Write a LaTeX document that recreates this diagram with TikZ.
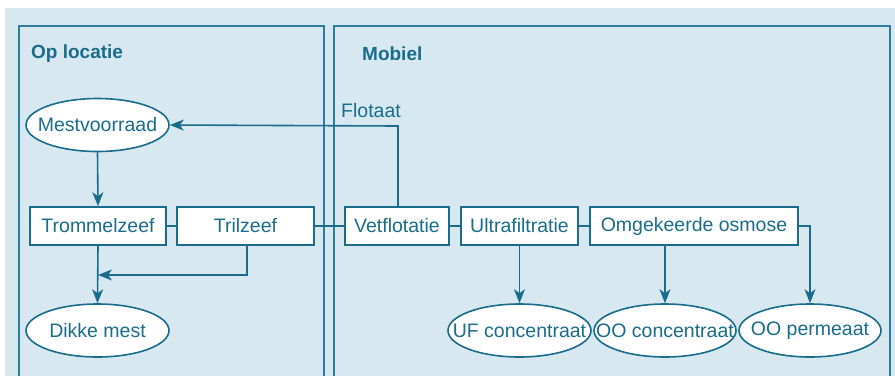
\documentclass[tikz,border=0pt]{standalone}
\usepackage{fontspec}
\setmainfont{Liberation Sans}
\usetikzlibrary{shapes.geometric,arrows.meta}
\definecolor{bg}{HTML}{D7E8F1}
\definecolor{ink}{HTML}{1A6C8C}
\definecolor{frame}{HTML}{2C7EA0}
\newcommand\ovaltext[1]{\makebox[0pt]{#1}}
\tikzset{
  box/.style={draw=ink, fill=white, line width=1.6pt, rectangle, minimum height=38pt, inner sep=0pt, text=ink, font=\fontsize{19.5}{22}\selectfont},
  oval/.style={draw=ink, fill=white, line width=1.6pt, ellipse, minimum height=53pt, inner sep=0pt, text=ink, font=\fontsize{19.5}{22}\selectfont},
  link/.style={draw=ink, line width=1.6pt},
  flow/.style={draw=ink, line width=1.6pt, -{Stealth[length=14pt,width=11pt,inset=4pt]}},
  panel/.style={draw=frame, line width=1.6pt},
  title/.style={text=ink, font=\fontsize{19}{22}\selectfont\bfseries, anchor=west, inner sep=0pt},
  lbl/.style={text=ink, font=\fontsize{19.5}{22}\selectfont, anchor=west, inner sep=0pt}
}
\begin{document}
\begin{tikzpicture}[x=1pt,y=-1pt]
\useasboundingbox (0,0) rectangle (895,376);
\fill[bg] (5,8) rectangle (895,376);
\draw[panel] (19,376) -- (19,26) -- (324,26) -- (324,376);
\draw[panel] (334,376) -- (334,26) -- (890,26) -- (890,376);
\node[title] (t1) at (31,54) {Op locatie};
\node[title] (t2) at (362,54) {Mobiel};
\node[lbl] (flot) at (341,111) {Flotaat};

\node[oval, minimum width=143pt] (mest) at (97.5,125) {\ovaltext{Mestvoorraad}};
\node[box, minimum width=136pt] (trom) at (98,226) {Trommelzeef};
\node[box, minimum width=137pt] (tril) at (245.5,226) {Trilzeef};
\node[box, minimum width=104pt] (vet) at (397,226) {Vetflotatie};
\node[box, minimum width=117pt] (uf) at (519.5,226) {Ultrafiltratie};
\node[box, minimum width=208pt] (oo) at (694,226) {Omgekeerde osmose};
\node[oval, minimum width=143pt] (dik) at (97.5,330.5) {\ovaltext{Dikke mest}};
\node[oval, minimum width=143pt] (ufc) at (519.5,330.5) {\ovaltext{UF concentraat}};
\node[oval, minimum width=142pt] (ooc) at (665,330.5) {\ovaltext{OO concentraat}};
\node[oval, minimum width=142pt] (oop) at (810,330.5) {\ovaltext{OO permeaat}};

\coordinate (j) at (98,275);
\coordinate (fl) at (398,126);

\path[flow] (mest.south) -- (trom.north);
\path[link] (trom.east) -- (tril.west);
\path[link] (tril.east) -- (vet.west);
\path[link] (vet.east) -- (uf.west);
\path[link] (uf.east) -- (oo.west);
\path[flow] (trom.south) -- (dik.north);
\path[flow] (tril.south -| 247,0) |- (j);
\path[flow] (vet.north -| fl) -- (fl) -- (mest.east);
\path[flow] (uf.south) -- (ufc.north);
\path[flow] (ooc.north |- oo.south) -- (ooc.north);
\path[flow] (oo.east) -| (oop.north);
\end{tikzpicture}
\end{document}
